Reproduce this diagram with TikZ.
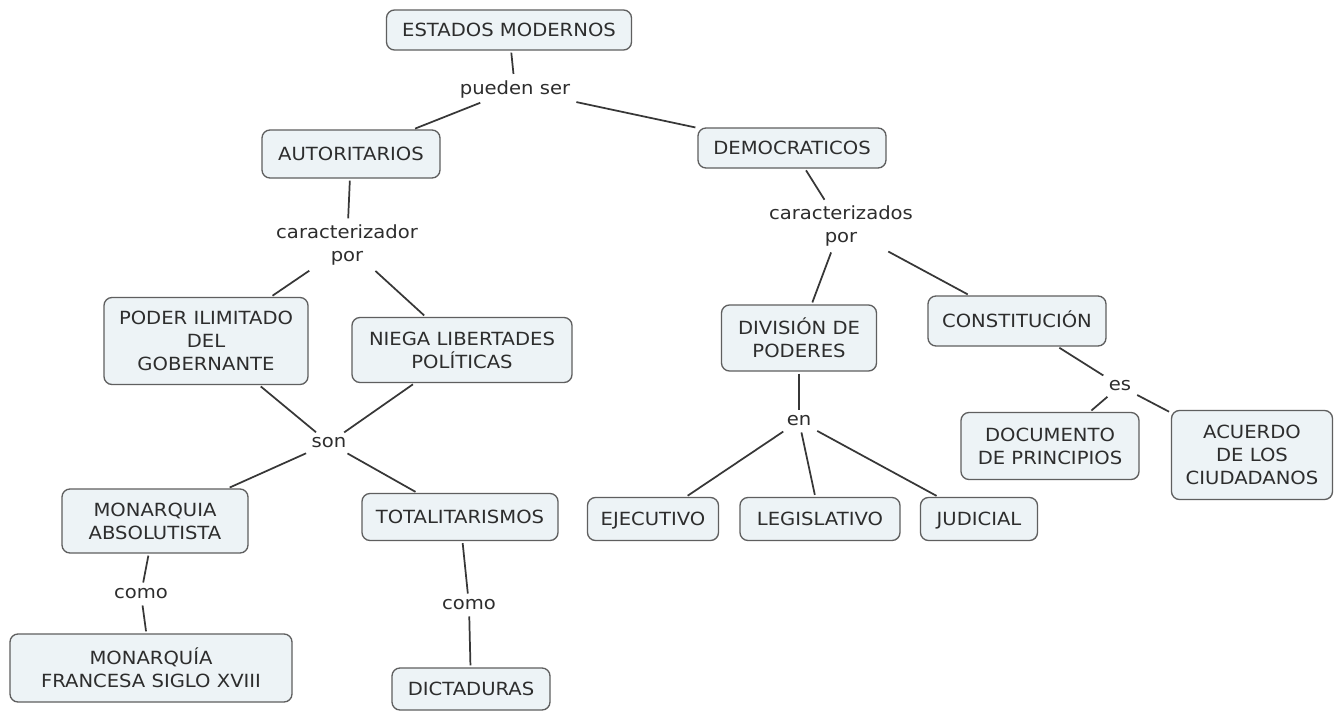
\documentclass[tikz,border=0pt]{standalone}
\usepackage{fontspec}
\setmainfont{DejaVu Sans}[FakeStretch=1.08]
\definecolor{boxfill}{RGB}{237,243,246}
\definecolor{boxdraw}{RGB}{95,95,95}
\definecolor{txt}{RGB}{45,45,45}
\definecolor{lnk}{RGB}{55,55,55}
\begin{document}
\begin{tikzpicture}[x=0.75pt,y=-0.75pt,
  every node/.style={font=\fontsize{13.6}{17.3}\selectfont, text=txt, align=center},
  cbox/.style={draw=boxdraw, fill=boxfill, rounded corners=6pt, line width=1pt, inner sep=2pt},
  one/.style={text height=11.5pt, text depth=1.6pt},
  lbl/.style={inner sep=3pt},
  conn/.style={draw=lnk, line width=1.3pt, shorten <=1.5pt, shorten >=1.5pt}]
\useasboundingbox (0,0) rectangle (1334,711);
\fill[white] (0,0) rectangle (1334,711);
% boxes
\node[cbox, one, minimum width=183.75pt, minimum height=30pt] (em) at (509,30) {ESTADOS MODERNOS};
\node[cbox, one, minimum width=133.5pt, minimum height=36pt] (aut) at (351,154) {AUTORITARIOS};
\node[cbox, one, minimum width=141pt, minimum height=30pt] (dem) at (792,148) {DEMOCRATICOS};
\node[cbox, minimum width=153pt, minimum height=65.25pt] (poder) at (206,341) {PODER ILIMITADO\\DEL\\GOBERNANTE};
\node[cbox, minimum width=165pt, minimum height=48.75pt] (niega) at (462,350) {NIEGA LIBERTADES\\POLÍTICAS};
\node[cbox, minimum width=116.25pt, minimum height=49.5pt] (div) at (799,338) {DIVISIÓN DE\\PODERES};
\node[cbox, one, minimum width=133.5pt, minimum height=37.5pt] (const) at (1017,321) {CONSTITUCIÓN};
\node[cbox, minimum width=133.5pt, minimum height=50.25pt] (doc) at (1050,446) {DOCUMENTO\\DE PRINCIPIOS};
\node[cbox, minimum width=120.75pt, minimum height=66.75pt] (acu) at (1252,455) {ACUERDO\\DE LOS\\CIUDADANOS};
\node[cbox, minimum width=139.5pt, minimum height=48pt] (mon) at (155,521) {MONARQUIA\\ABSOLUTISTA};
\node[cbox, one, minimum width=147pt, minimum height=35.25pt] (tot) at (460,517) {TOTALITARISMOS};
\node[cbox, one, minimum width=98.25pt, minimum height=32.25pt] (eje) at (653,519) {EJECUTIVO};
\node[cbox, one, minimum width=120pt, minimum height=32.25pt] (leg) at (820,519) {LEGISLATIVO};
\node[cbox, one, minimum width=87.75pt, minimum height=32.25pt] (jud) at (979,519) {JUDICIAL};
\node[cbox, minimum width=211.5pt, minimum height=51pt] (mfr) at (151,668) {MONARQUÍA\\FRANCESA SIGLO XVIII};
\node[cbox, one, minimum width=118.5pt, minimum height=31.5pt] (dic) at (471,689) {DICTADURAS};
% labels
\node[lbl] (pueden) at (515,89) {pueden ser};
\node[lbl] (cz1) at (347,245) {caracterizador\\por};
\node[lbl] (cz2) at (841,226) {caracterizados\\por};
\node[lbl] (son) at (329,443) {son};
\node[lbl] (en) at (799,421) {en};
\node[lbl] (es) at (1120,386) {es};
\node[lbl] (como1) at (141,594) {como};
\node[lbl] (como2) at (469,605) {como};
% connectors
\draw[conn] (em) -- (pueden);
\draw[conn] (pueden) -- (aut);
\draw[conn] (pueden) -- (dem);
\draw[conn] (aut) -- (cz1);
\draw[conn] (cz1) -- (poder);
\draw[conn] (cz1) -- (niega);
\draw[conn] (dem) -- (cz2);
\draw[conn] (cz2) -- (div);
\draw[conn] (cz2) -- (const);
\draw[conn] (poder) -- (son);
\draw[conn] (niega) -- (son);
\draw[conn] (son) -- (mon);
\draw[conn] (son) -- (tot);
\draw[conn] (mon) -- (como1);
\draw[conn] (como1) -- (mfr);
\draw[conn] (tot) -- (como2);
\draw[conn] (como2) -- (dic);
\draw[conn] (div) -- (en);
\draw[conn] (en) -- (eje);
\draw[conn] (en) -- (leg);
\draw[conn] (en) -- (jud);
\draw[conn] (const) -- (es);
\draw[conn] (es) -- (doc);
\draw[conn] (es) -- (acu);
\end{tikzpicture}
\end{document}
